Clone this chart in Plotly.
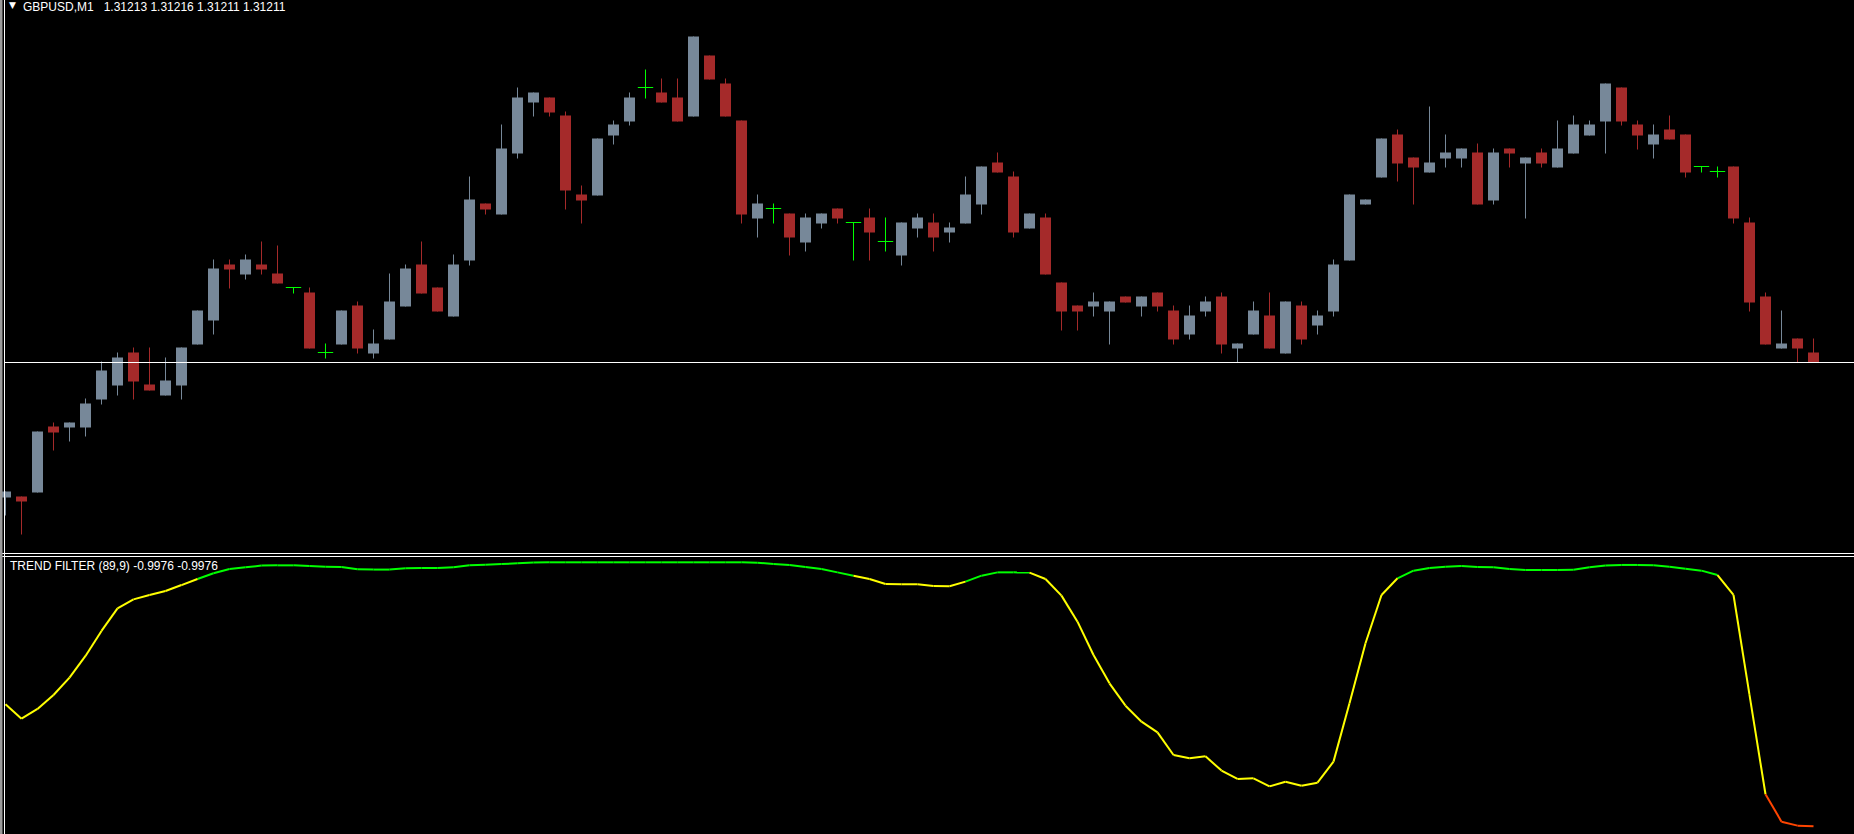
import plotly.graph_objects as go

# ---------------- data (GBPUSD M1) ----------------
symbol = "GBPUSD,M1"

opens = [1.311840, 1.311842, 1.311850, 1.311982, 1.311980, 1.311980, 1.312036, 1.312064, 1.312130, 1.312066,
         1.312044, 1.312064, 1.312146, 1.312194, 1.312306, 1.312286, 1.312306, 1.312288, 1.312260, 1.312250,
         1.312130, 1.312146, 1.312224, 1.312128, 1.312156, 1.312222, 1.312306, 1.312260, 1.312202, 1.312314,
         1.312428, 1.312406, 1.312528, 1.312630, 1.312640, 1.312604, 1.312446, 1.312444, 1.312564, 1.312592,
         1.312660, 1.312650, 1.312640, 1.312602, 1.312724, 1.312668, 1.312594, 1.312398, 1.312418, 1.312408,
         1.312350, 1.312388, 1.312418, 1.312390, 1.312400, 1.312352, 1.312324, 1.312378, 1.312390, 1.312370,
         1.312388, 1.312426, 1.312510, 1.312482, 1.312378, 1.312400, 1.312270, 1.312224, 1.312222, 1.312212,
         1.312242, 1.312222, 1.312250, 1.312214, 1.312166, 1.312212, 1.312242, 1.312138, 1.312166, 1.312204,
         1.312128, 1.312224, 1.312184, 1.312212, 1.312314, 1.312426, 1.312480, 1.312566, 1.312520, 1.312490,
         1.312518, 1.312518, 1.312530, 1.312434, 1.312538, 1.312508, 1.312530, 1.312500, 1.312528, 1.312564,
         1.312592, 1.312660, 1.312586, 1.312546, 1.312576, 1.312566, 1.312502, 1.312492, 1.312502, 1.312390,
         1.312242, 1.312138, 1.312158, 1.312130]

highs = [1.311852, 1.311842, 1.311972, 1.311990, 1.311990, 1.312038, 1.312112, 1.312130, 1.312140, 1.312140,
         1.312120, 1.312140, 1.312214, 1.312316, 1.312316, 1.312326, 1.312352, 1.312344, 1.312260, 1.312260,
         1.312148, 1.312214, 1.312232, 1.312176, 1.312288, 1.312306, 1.312352, 1.312260, 1.312326, 1.312482,
         1.312428, 1.312586, 1.312660, 1.312650, 1.312640, 1.312612, 1.312464, 1.312558, 1.312594, 1.312650,
         1.312696, 1.312678, 1.312678, 1.312762, 1.312724, 1.312678, 1.312594, 1.312446, 1.312428, 1.312408,
         1.312408, 1.312408, 1.312418, 1.312390, 1.312418, 1.312400, 1.312390, 1.312408, 1.312408, 1.312390,
         1.312482, 1.312502, 1.312530, 1.312492, 1.312408, 1.312408, 1.312270, 1.312224, 1.312250, 1.312232,
         1.312242, 1.312242, 1.312250, 1.312224, 1.312224, 1.312242, 1.312250, 1.312148, 1.312232, 1.312250,
         1.312232, 1.312232, 1.312214, 1.312316, 1.312446, 1.312436, 1.312558, 1.312576, 1.312520, 1.312622,
         1.312566, 1.312538, 1.312548, 1.312538, 1.312538, 1.312520, 1.312538, 1.312594, 1.312604, 1.312594,
         1.312668, 1.312660, 1.312594, 1.312586, 1.312604, 1.312566, 1.312502, 1.312502, 1.312502, 1.312400,
         1.312250, 1.312214, 1.312158, 1.312158]

lows = [1.311804, 1.311766, 1.311850, 1.311934, 1.311952, 1.311962, 1.312026, 1.312044, 1.312036, 1.312054,
        1.312044, 1.312036, 1.312146, 1.312166, 1.312258, 1.312276, 1.312286, 1.312268, 1.312248, 1.312138,
        1.312118, 1.312146, 1.312128, 1.312118, 1.312156, 1.312222, 1.312248, 1.312212, 1.312202, 1.312304,
        1.312406, 1.312406, 1.312518, 1.312602, 1.312602, 1.312416, 1.312388, 1.312444, 1.312546, 1.312584,
        1.312638, 1.312630, 1.312592, 1.312602, 1.312676, 1.312602, 1.312388, 1.312360, 1.312388, 1.312324,
        1.312332, 1.312378, 1.312388, 1.312314, 1.312314, 1.312332, 1.312304, 1.312360, 1.312332, 1.312350,
        1.312388, 1.312406, 1.312490, 1.312360, 1.312378, 1.312286, 1.312174, 1.312174, 1.312202, 1.312146,
        1.312230, 1.312202, 1.312212, 1.312146, 1.312156, 1.312202, 1.312128, 1.312110, 1.312166, 1.312138,
        1.312128, 1.312146, 1.312166, 1.312202, 1.312314, 1.312426, 1.312480, 1.312472, 1.312426, 1.312490,
        1.312500, 1.312500, 1.312426, 1.312426, 1.312500, 1.312398, 1.312500, 1.312500, 1.312528, 1.312564,
        1.312528, 1.312584, 1.312536, 1.312518, 1.312556, 1.312480, 1.312490, 1.312480, 1.312388, 1.312212,
        1.312146, 1.312138, 1.312110, 1.312110]

closes = [1.311852, 1.311832, 1.311972, 1.311970, 1.311990, 1.312028, 1.312094, 1.312120, 1.312072, 1.312054,
          1.312074, 1.312140, 1.312214, 1.312298, 1.312296, 1.312316, 1.312296, 1.312268, 1.312260, 1.312138,
          1.312130, 1.312214, 1.312138, 1.312148, 1.312232, 1.312298, 1.312248, 1.312212, 1.312306, 1.312436,
          1.312416, 1.312538, 1.312640, 1.312650, 1.312610, 1.312454, 1.312434, 1.312558, 1.312586, 1.312640,
          1.312660, 1.312630, 1.312592, 1.312762, 1.312676, 1.312602, 1.312406, 1.312428, 1.312418, 1.312360,
          1.312400, 1.312408, 1.312398, 1.312390, 1.312370, 1.312352, 1.312390, 1.312400, 1.312360, 1.312380,
          1.312446, 1.312502, 1.312490, 1.312370, 1.312408, 1.312286, 1.312212, 1.312212, 1.312232, 1.312232,
          1.312230, 1.312242, 1.312222, 1.312156, 1.312204, 1.312232, 1.312146, 1.312148, 1.312214, 1.312138,
          1.312232, 1.312156, 1.312204, 1.312306, 1.312446, 1.312436, 1.312558, 1.312508, 1.312500, 1.312510,
          1.312530, 1.312538, 1.312426, 1.312530, 1.312528, 1.312520, 1.312508, 1.312538, 1.312586, 1.312586,
          1.312668, 1.312592, 1.312564, 1.312566, 1.312556, 1.312490, 1.312502, 1.312492, 1.312398, 1.312230,
          1.312146, 1.312148, 1.312138, 1.312110]

# Trend Filter (89,9) indicator values
trend = [-0.076, -0.184, -0.111, -0.005, 0.126, 0.290, 0.479, 0.650, 0.718, 0.751,
         0.781, 0.826, 0.872, 0.915, 0.947, 0.960, 0.973, 0.975, 0.975, 0.970,
         0.965, 0.963, 0.945, 0.943, 0.943, 0.953, 0.955, 0.955, 0.960, 0.975,
         0.980, 0.985, 0.990, 0.996, 0.998, 0.998, 0.998, 0.998, 0.998, 0.998,
         0.998, 0.998, 0.998, 0.998, 0.998, 0.998, 0.998, 0.995, 0.985, 0.978,
         0.963, 0.947, 0.922, 0.897, 0.872, 0.834, 0.832, 0.832, 0.819, 0.817,
         0.852, 0.897, 0.922, 0.922, 0.920, 0.872, 0.746, 0.549, 0.297, 0.083,
         -0.086, -0.207, -0.288, -0.459, -0.484, -0.469, -0.577, -0.640, -0.635, -0.696,
         -0.661, -0.691, -0.668, -0.509, -0.068, 0.386, 0.751, 0.877, 0.935, 0.955,
         0.965, 0.970, 0.963, 0.960, 0.947, 0.940, 0.940, 0.940, 0.942, 0.960,
         0.973, 0.978, 0.978, 0.975, 0.965, 0.950, 0.935, 0.902, 0.751, -0.005,
         -0.756, -0.963, -0.993, -0.9976]

# trend state per bar: 1 = up, 0 = neutral, -1 = down
trend_state = [0] * 13 + [1] * 41 + [0] * 7 + [1] * 4 + [0] * 23 + [1] * 20 + [0] * 3 + [-1] * 3

# ---------------- styling ----------------
W, H = 1854, 834
BULL = "#778899"
BEAR = "#A52A2A"
DOJI = "#00FF00"
STATE_COLORS = {1: "#00FF00", 0: "#FFFF00", -1: "#FF4500"}
FONT = "Liberation Sans, Arial, sans-serif"

n = len(opens)
idx = list(range(n))
bull = [i for i in idx if closes[i] > opens[i] + 1e-9]
bear = [i for i in idx if closes[i] < opens[i] - 1e-9]
doji = [i for i in idx if abs(closes[i] - opens[i]) <= 1e-9]

fig = go.Figure()


def wick_xy(ids):
    xs, ys = [], []
    for i in ids:
        xs += [i, i, None]
        ys += [lows[i], highs[i], None]
    return xs, ys


for ids, col in ((bull, BULL), (bear, BEAR), (doji, DOJI)):
    xs, ys = wick_xy(ids)
    fig.add_trace(go.Scatter(x=xs, y=ys, mode="lines", line=dict(color=col, width=1),
                             xaxis="x", yaxis="y", hoverinfo="skip", showlegend=False))

for ids, col in ((bull, BULL), (bear, BEAR)):
    fig.add_trace(go.Bar(x=ids,
                         y=[abs(closes[i] - opens[i]) for i in ids],
                         base=[min(opens[i], closes[i]) for i in ids],
                         width=0.6875, marker=dict(color=col, line=dict(width=0)),
                         xaxis="x", yaxis="y", hoverinfo="skip", showlegend=False))

fig.add_trace(go.Scatter(x=doji, y=[opens[i] for i in doji], mode="markers",
                         marker=dict(symbol="line-ew", size=11, color=DOJI,
                                     line=dict(color=DOJI, width=1)),
                         xaxis="x", yaxis="y", hoverinfo="skip", showlegend=False))

# indicator segments coloured by trend state
for st, col in STATE_COLORS.items():
    xs, ys = [], []
    for i in range(1, n):
        if trend_state[i] == st:
            xs += [i - 1, i, None]
            ys += [trend[i - 1], trend[i], None]
    fig.add_trace(go.Scatter(x=xs, y=ys, mode="lines", line=dict(color=col, width=2),
                             xaxis="x2", yaxis="y2", hoverinfo="skip", showlegend=False))

# axes geometry
px_per_bar = 16.0
x0 = -5.5 / px_per_bar
x1 = (W - 5.5) / px_per_bar
main_bottom_px = 553
ind_top_px = 556
price_per_px = 0.000002
y_top = 1.312835
y_bot = y_top - main_bottom_px * price_per_px

fig.update_layout(
    width=W, height=H,
    margin=dict(l=0, r=0, t=0, b=0),
    paper_bgcolor="black", plot_bgcolor="black",
    barmode="overlay", showlegend=False,
    xaxis=dict(domain=[0, 1], range=[x0, x1], visible=False, anchor="y"),
    yaxis=dict(domain=[1 - main_bottom_px / H, 1], range=[y_bot, y_top], visible=False, anchor="x"),
    xaxis2=dict(domain=[0, 1], range=[x0, x1], visible=False, anchor="y2"),
    yaxis2=dict(domain=[0, 1 - ind_top_px / H], range=[-1.0563, 1.0457], visible=False, anchor="x2"),
)

shapes = [
    # current price line
    dict(type="line", xref="paper", yref="y", x0=5 / W, x1=1, y0=closes[-1], y1=closes[-1],
         line=dict(color="white", width=1)),
    # pane separators
    dict(type="line", xref="paper", yref="paper", x0=0, x1=1,
         y0=1 - 553.5 / H, y1=1 - 553.5 / H, line=dict(color="white", width=1)),
    dict(type="line", xref="paper", yref="paper", x0=0, x1=1,
         y0=1 - 556.5 / H, y1=1 - 556.5 / H, line=dict(color="white", width=1)),
    # left window border
    dict(type="rect", xref="paper", yref="paper", x0=0, x1=2.5 / W, y0=0, y1=1,
         fillcolor="#9a9a9a", line=dict(width=0)),
    dict(type="line", xref="paper", yref="paper", x0=4.5 / W, x1=4.5 / W, y0=0, y1=1,
         line=dict(color="white", width=1)),
]
fig.update_layout(shapes=shapes)

title_txt = "{}\u00a0\u00a0\u00a0{:.5f} {:.5f} {:.5f} {:.5f}".format(
    symbol, opens[-1], highs[-1], lows[-1], closes[-1])
ind_txt = "TREND FILTER (89,9) {:.4f} {:.4f}".format(trend[-1], trend[-1])

fig.update_layout(annotations=[
    dict(text="\u25bc", xref="paper", yref="paper", x=8 / W, y=1, xanchor="left", yanchor="top",
         showarrow=False, font=dict(family="DejaVu Sans, sans-serif", size=9, color="white"),
         borderpad=0, yshift=1),
    dict(text=title_txt, xref="paper", yref="paper", x=22 / W, y=1, xanchor="left", yanchor="top",
         showarrow=False, font=dict(family=FONT, size=12, color="white"), borderpad=0, yshift=1),
    dict(text=ind_txt, xref="paper", yref="paper", x=9 / W, y=1 - 558 / H, xanchor="left",
         yanchor="top", showarrow=False, font=dict(family=FONT, size=12, color="white"), borderpad=0),
])

fig.write_html(
    "out.html",
    config={"displayModeBar": False},
    post_script="document.body.style.margin='0';document.body.style.background='black';"
                "document.body.style.overflow='hidden';",
)
